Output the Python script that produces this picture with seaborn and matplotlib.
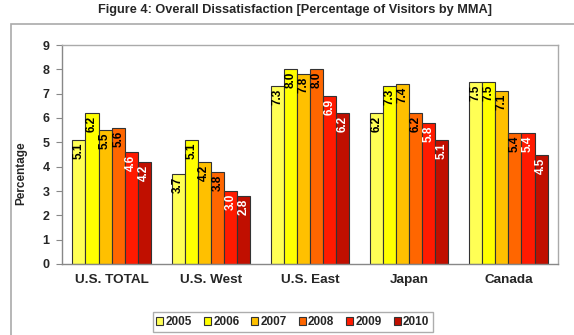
import matplotlib
matplotlib.use("Agg")
import matplotlib.pyplot as plt
import matplotlib.patches as mpatches
import numpy as np
import pandas as pd
import seaborn as sns

regions = ["U.S. TOTAL", "U.S. West", "U.S. East", "Japan", "Canada"]
years = ["2005", "2006", "2007", "2008", "2009", "2010"]
v2005 = [5.1, 3.7, 7.3, 6.2, 7.5]
v2006 = [6.2, 5.1, 8.0, 7.3, 7.5]
v2007 = [5.5, 4.2, 7.8, 7.4, 7.1]
v2008 = [5.6, 3.8, 8.0, 6.2, 5.4]
v2009 = [4.6, 3.0, 6.9, 5.8, 5.4]
v2010 = [4.2, 2.8, 6.2, 5.1, 4.5]
yticks = [0, 1, 2, 3, 4, 5, 6, 7, 8, 9]

series = [v2005, v2006, v2007, v2008, v2009, v2010]
df = pd.DataFrame({
    "region": [r for _ in years for r in regions],
    "year": [y for y in years for _ in regions],
    "value": [v for s in series for v in s],
})

colors = ["#FFFF55", "#FFFF00", "#FFC000", "#FF6600", "#FF1A00", "#C00F00"]
label_colors = ["black", "black", "black", "black", "white", "white"]

sns.set_theme(style="white")
plt.rcParams["font.family"] = ["Liberation Sans", "DejaVu Sans"]
plt.rcParams["font.weight"] = "bold"

fig = plt.figure(figsize=(5.74, 3.35), dpi=100)
ax = fig.add_axes([62 / 574, 1 - 264 / 335, (558 - 62) / 574, (264 - 45) / 335])

sns.barplot(data=df, x="region", y="value", hue="year", order=regions,
            hue_order=years, palette=colors, width=0.79, saturation=1,
            edgecolor="#333333", linewidth=0.8, ax=ax, legend=False)

# value labels inside the top of each bar, rotated
for container, tc in zip(ax.containers, label_colors):
    for bar in container:
        h = bar.get_height()
        ax.annotate(f"{h:.1f}", xy=(bar.get_x() + bar.get_width() / 2, h),
                    xytext=(0, -2), textcoords="offset points",
                    rotation=90, ha="center", va="top",
                    fontsize=8.5, fontweight="bold", color=tc)

ax.set_ylim(0, 9)
ax.set_yticks(yticks)
ax.set_yticklabels([str(t) for t in yticks], fontsize=9, fontweight="bold")
ax.set_xlim(-0.5, len(regions) - 0.5)
ax.set_xlabel("")
ax.set_ylabel("Percentage", fontsize=8.5, fontweight="bold")
ax.yaxis.set_label_coords(-0.07, 0.415)
ax.tick_params(axis="x", which="major", length=0, labelsize=9.7, pad=7)
ax.set_xticks(np.arange(-0.5, len(regions), 1.0), minor=True)
ax.tick_params(axis="x", which="minor", length=4, width=0.8, color="#888888", direction="out")
ax.tick_params(axis="y", length=4, width=0.8, color="#888888", direction="out", pad=5, left=True)
for lab in ax.get_xticklabels():
    lab.set_fontweight("bold")

for side in ["top", "right"]:
    ax.spines[side].set_color("#AAAAAA")
    ax.spines[side].set_linewidth(1.0)
for side in ["left", "bottom"]:
    ax.spines[side].set_color("#888888")
    ax.spines[side].set_linewidth(1.0)

# outer chart frame
frame = mpatches.Rectangle((11 / 574, -0.1), 1.2, 1 - 24 / 335 + 0.1,
                           transform=fig.transFigure, fill=False,
                           edgecolor="#AAAAAA", linewidth=1.2)
fig.patches.append(frame)

fig.text(295 / 574, 1 - 10 / 335, "Figure 4: Overall Dissatisfaction [Percentage of Visitors by MMA]",
         ha="center", va="center", fontsize=9.2, fontweight="bold")

handles = [mpatches.Patch(facecolor=c, edgecolor="#333333", linewidth=0.8, label=y)
           for c, y in zip(colors, years)]
leg = fig.legend(handles=handles, loc="center", bbox_to_anchor=(0.51, 1 - 322 / 335),
                 ncol=6, fontsize=8.5, handlelength=0.6, handleheight=0.6,
                 handletextpad=0.2, columnspacing=1.0, fancybox=False,
                 borderpad=0.3, frameon=True)
leg.get_frame().set_edgecolor("#999999")
leg.get_frame().set_linewidth(1.0)
for t in leg.get_texts():
    t.set_fontweight("bold")

fig.savefig("out.png", dpi=100)
